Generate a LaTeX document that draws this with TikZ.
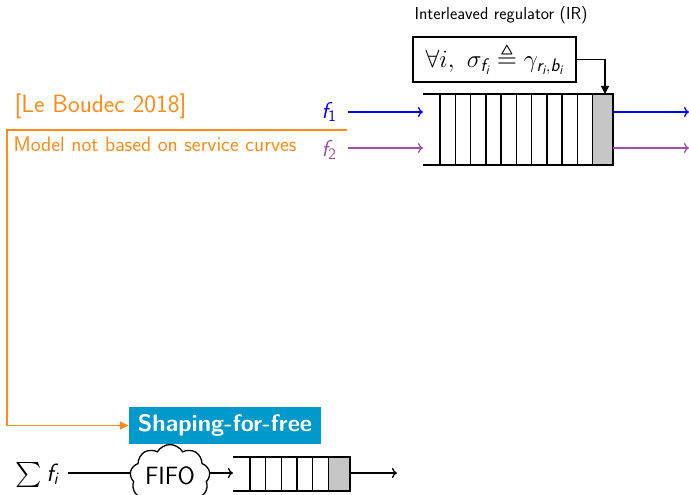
\documentclass[tikz,border=0pt]{standalone}
\usepackage{amsmath,amssymb}
\usepackage{fontspec}
\usetikzlibrary{shapes.symbols,arrows.meta}
\renewcommand\familydefault{\sfdefault}
\definecolor{refor}{RGB}{255,140,26}
\definecolor{flowtwo}{RGB}{155,80,170}
\definecolor{sffblue}{RGB}{0,153,204}
\newcommand\sv[1]{\text{\sffamily\itshape #1}}
\newcommand\sn[1]{\text{\sffamily\upshape #1}}
\newcommand\fs[1]{\fontsize{#1}{#1}\selectfont}
\tikzset{
  flow/.style={line width=1.3pt,-{Computer Modern Rightarrow[length=5pt,width=10pt,line width=1.3pt]}},
  qedge/.style={line width=2pt},
  qcell/.style={line width=1.5pt},
  qbox/.style={inner sep=0pt,outer sep=0pt},
  orangeline/.style={refor,line width=1.5pt},
}
\begin{document}
\begin{tikzpicture}[x=1pt,y=-1pt]
\useasboundingbox (0,0) rectangle (689,495);
\clip (0,0) rectangle (689,495);

% ---------- interleaved regulator ----------
\node[font=\fs{17.4}] (irlabel) at (501,15) {Interleaved regulator (IR)};
\node[draw,line width=1.5pt,minimum width=163pt,minimum height=45pt,inner sep=2pt,font=\fs{26}]
  (cond) at (494.5,59.5) {$\forall i,\ \sigma_{\sv{f}_{\sv{i}}} \triangleq \gamma_{\sv{r}_{\sv{i}},\sv{b}_{\sv{i}}}$};

% queue of the regulator
\node[qbox,minimum width=190pt,minimum height=71pt] (q1) at (518,129.5) {};
\fill[gray!45] (593,94) rectangle (613,165);
\draw[qedge] (q1.north west) -- (q1.north east) -- (q1.south east) -- (q1.south west);
\foreach \k in {0,...,10} \draw[qcell] (440+15.27*\k,94) -- (440+15.27*\k,165);
\coordinate (tap) at (605,94);
\draw[line width=1.3pt,-{Triangle[length=8pt,width=8pt]}] (cond.east) -| (tap);

% flows
\node[blue,font=\fs{23}] (f1) at (329,112) {$\sv{f}_{\sn{1}}$};
\node[flowtwo,font=\fs{23}] (f2) at (329,150) {$\sv{f}_{\sn{2}}$};
\coordinate (in1) at (423,112);
\coordinate (in2) at (423,148);
\draw[flow,blue] (348,112) -- (in1);
\draw[flow,flowtwo] (348,148) -- (in2);
\coordinate (out1) at (689,112);
\coordinate (out2) at (689,148);
\draw[flow,blue] (613,112) -- (out1);
\draw[flow,flowtwo] (613,148) -- (out2);

% ---------- reference ----------
\node[refor,anchor=west,font=\fs{25}] (ref) at (11,106) {[Le Boudec 2018]};
\node[refor,anchor=west,font=\fs{21}] (model) at (10,144) {Model not based on service curves};
\node[fill=sffblue,text=white,font=\fs{23.8}\bfseries,minimum width=192pt,minimum height=37pt,inner sep=0pt]
  (sff) at (225,425.5) {Shaping-for-free};
\coordinate (brk) at (347,130);
\draw[orangeline,-{Triangle[length=9pt,width=8pt]}] (brk) -- (7,130) |- (sff.west);

% ---------- shaping-for-free pipeline ----------
\node[font=\fs{25}] (sum) at (37,475) {$\sum \sv{f}_{\sv{i}}$};
\node[cloud,draw,line width=1.3pt,cloud puffs=9,cloud puff arc=120,aspect=1.3,
      minimum width=80pt,minimum height=60pt,inner sep=0pt,font=\fs{25}] (fifo) at (170,477) {\raisebox{2pt}{FIFO}};
\draw[line width=1.3pt] (68,473) -- (fifo.west |- 0,473);
\node[qbox,minimum width=117pt,minimum height=34pt] (q2) at (291.5,474) {};
\fill[gray!45] (328.3,457) rectangle (350,491);
\draw[qedge] (q2.north west) -- (q2.north east) -- (q2.south east) -- (q2.south west);
\foreach \k in {0,...,5} \draw[qcell] (250+15.66*\k,457) -- (250+15.66*\k,491);
\draw[flow] (fifo.east |- 0,473) -- (q2.west |- 0,473);
\coordinate (out3) at (397,473);
\draw[flow] (q2.east |- 0,473) -- (out3);
\end{tikzpicture}
\end{document}
